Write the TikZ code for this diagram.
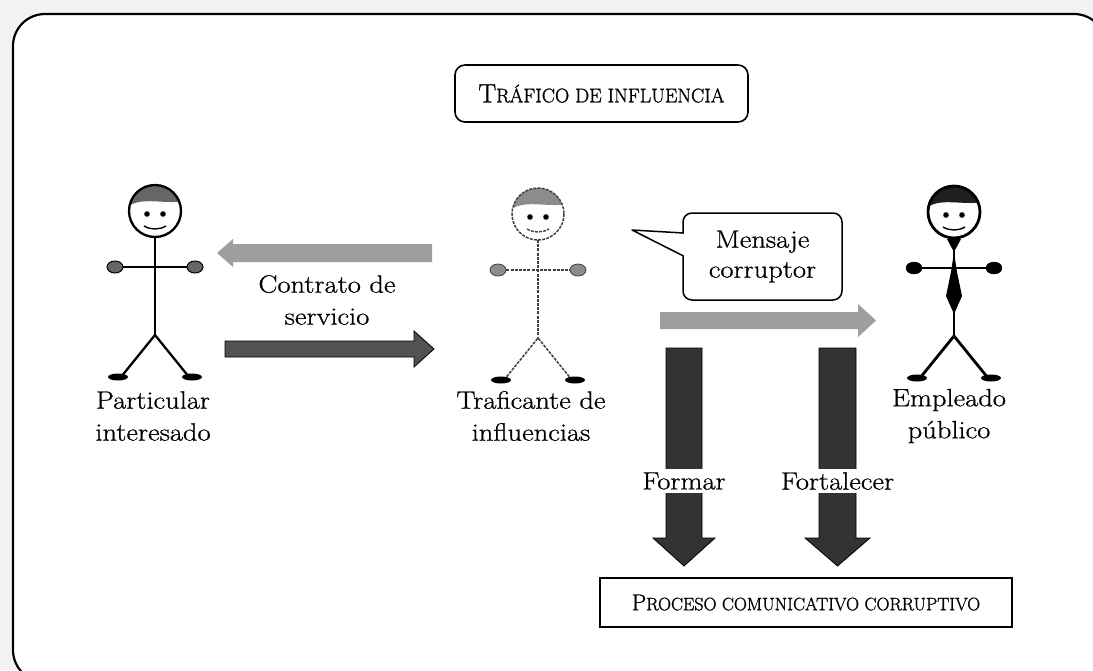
\documentclass[tikz,border=0pt]{standalone}
\usepackage{fontspec}
\usetikzlibrary{calc}
\newfontfamily\wideserif{Latin Modern Roman}[FakeStretch=1.14, FakeBold=0.8]
\newfontfamily\capserif{Latin Modern Roman}[FakeBold=1.2]
% small capitals built from two sizes of capitals
\newcommand\capfirst[1]{{\fontsize{26.5}{28}\selectfont #1}}
\newcommand\caprest[1]{{\fontsize{19.8}{28}\selectfont #1}}
\begin{document}
\begin{tikzpicture}[x=1pt,y=-1pt,
  txt/.style={font=\wideserif\fontsize{25}{32}\selectfont, align=center, inner sep=0pt},
  titlebox/.style={draw, line width=1.6pt, rounded corners=10pt, minimum width=293pt,
    minimum height=57pt, font=\capserif},
  procbox/.style={draw, line width=1.4pt, minimum width=412pt, minimum height=49pt,
    font=\capserif},
  msgbox/.style={draw, fill=white, line width=1.5pt, rounded corners=9pt, minimum width=159pt,
    minimum height=87pt, align=center, font=\wideserif\fontsize{25}{30}\selectfont, inner sep=0pt},
  lightarrow/.style={fill=black!38},
  darkarrow/.style={fill=black!68, draw=black, line width=0.8pt},
  downarrow/.style={fill=black!80, draw=black, line width=0.8pt},
  gap/.style={txt, fill=white, inner xsep=2pt, inner ysep=3pt},
  ink/.style={line width=2.3pt, draw=black},
  hair/.style={fill=black!60},
  hand/.style={fill=black!60, draw=black, line width=1pt},
]
\useasboundingbox (0,0) rectangle (1093,670);

% scanned margin and the outer frame
\fill[black!5] (0,0) rectangle (1093,670);
\filldraw[fill=white, line width=2.2pt, rounded corners=32pt] (13,14) rectangle (1106,682);

% stick figure: #1,#2 head centre, #3 line style, #4 hair style, #5 hand style
\newcommand\stickfig[5]{%
\begin{scope}[shift={(#1,#2)}]
  \begin{scope}
    \clip (0,0) circle[radius=26];
    \fill[#4] (-30,-2) .. controls (-16,-16) and (8,-6) .. (30,-10) -- (30,-30) -- (-30,-30) -- cycle;
  \end{scope}
  \draw[#3] (0,0) circle[radius=26];
  \fill (-8,3) circle[radius=2.8];
  \fill (8,3) circle[radius=2.8];
  \draw[#3, line width=1.4pt] (-11,15) .. controls (-4,19) and (4,19) .. (11,15);
  \draw[#3] (0,26) -- (0,124);
  \draw[#3] (-40,56) -- (40,56);
  \draw[#3] (-34,166) -- (0,124) -- (34,166);
  \filldraw[#5] (-40,56) ellipse[x radius=8, y radius=6];
  \filldraw[#5] (40,56) ellipse[x radius=8, y radius=6];
  \fill (-37,166) ellipse[x radius=10, y radius=3.5];
  \fill (37,166) ellipse[x radius=10, y radius=3.5];
\end{scope}}

\stickfig{155}{211}{ink}{hair}{hand}
\stickfig{538}{214}{line width=1.5pt, draw=black!75, dash pattern=on 3pt off 1.2pt}{fill=black!45}{fill=black!45, draw=black!75, line width=0.8pt}
\stickfig{954}{212}{line width=2.8pt, draw=black}{fill=black!88}{fill=black, draw=black}
% necktie
\fill (947,239) -- (961,239) -- (954,252) -- cycle;
\fill (954,252) -- (951,272) -- (946,296) -- (954,314) -- (962,296) -- (957,272) -- cycle;

% title and labels
\node[titlebox] (title) at (601.5,93.5) {\capfirst{T}\caprest{RÁFICO DE INFLUENCIA}};
\node[txt] (part) at (153,416) {Particular\\interesado};
\node[txt] (traf) at (531,416) {Traficante de\\influencias};
\node[txt] (empl) at (949,416) {Empleado\\público};
\node[txt] (contr) at (327,300) {Contrato de\\servicio};

% contract arrows
\fill[lightarrow] (432,244) -- (233,244) -- (233,239) -- (217,253) -- (233,267) -- (233,262) -- (432,262) -- cycle;
\filldraw[darkarrow] (225,341) -- (414,341) -- (414,331) -- (434,349) -- (414,367) -- (414,357) -- (225,357) -- cycle;

% corrupt message bubble
\node[msgbox] (msg) at (762.5,256.5) {Mensaje\\corruptor};
\coordinate (tip) at (632,230);
\fill[white] (tip) -- (685,234) -- (685,256) -- cycle;
\draw[line width=1.5pt, line join=round] (683.5,233) -- (tip) -- (683.5,256);
\fill[lightarrow] (660,312) -- (858,312) -- (858,304) -- (876,320.5) -- (858,337) -- (858,329) -- (660,329) -- cycle;

% down arrows to the process
\filldraw[downarrow] (666,348) -- (702,348) -- (702,538) -- (715,538) -- (684,566) -- (653,538) -- (666,538) -- cycle;
\filldraw[downarrow] (819,348) -- (856,348) -- (856,538) -- (870,538) -- (837.5,566) -- (805,538) -- (819,538) -- cycle;
\node[gap] (form) at (684,481) {Formar};
\node[gap] (fort) at (837.5,481) {Fortalecer};

\node[procbox] (proc) at (806,602.5) {{\fontsize{23}{26}\selectfont P}{\fontsize{18}{26}\selectfont ROCESO COMUNICATIVO CORRUPTIVO}};
\end{tikzpicture}
\end{document}
